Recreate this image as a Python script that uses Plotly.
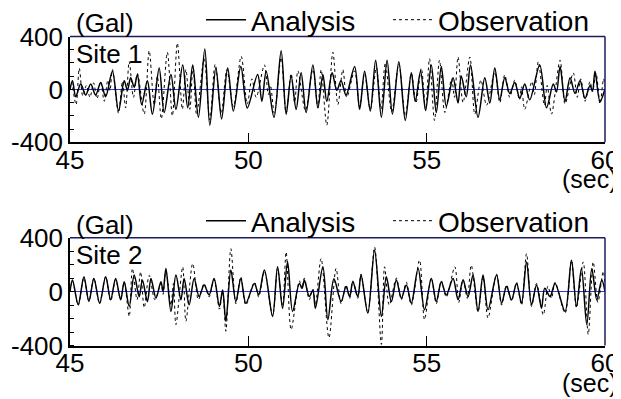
import plotly.graph_objects as go

# ---------------- data (extrema; seconds, Gal) ----------------
site1_ana_t = [45.00, 45.07, 45.16, 45.30, 45.44, 45.58, 45.72, 45.86, 46.00, 46.19, 46.36, 46.52, 46.61, 46.70,
               46.80, 46.89, 47.01, 47.17, 47.31, 47.50, 47.64, 47.83, 47.97, 48.16, 48.30, 48.44, 48.60, 48.78,
               48.92, 49.09, 49.25, 49.42, 49.58, 49.79, 49.97, 50.26, 50.38, 50.50, 50.72, 50.92, 51.06, 51.20,
               51.34, 51.48, 51.62, 51.81, 51.95, 52.09, 52.20, 52.35, 52.48, 52.60, 52.74, 52.98, 53.12, 53.26,
               53.42, 53.57, 53.73, 53.89, 54.04, 54.22, 54.40, 54.57, 54.68, 54.83, 54.97, 55.13, 55.27, 55.41,
               55.55, 55.74, 55.88, 55.97, 56.11, 56.23, 56.44, 56.63, 56.77, 56.91, 57.05, 57.19, 57.33, 57.47,
               57.61, 57.75, 57.89, 58.17, 58.36, 58.55, 58.64, 58.74, 58.88, 59.02, 59.16, 59.30, 59.44, 59.58,
               59.65, 59.72, 59.86, 60.00]
site1_ana_v = [0, 65, -55, 40, -43, 40, -43, 53, -55, 137, -163, 65, -7, 89,
               17, 113, -115, 65, -187, 161, -175, 113, -151, 185, -139, 185, -211, 305,
               -271, 161, -223, 161, -163, 173, -140, 113, -91, 137, -211, 293, -187, 101,
               -151, 125, -175, 185, -139, 113, -91, 125, -7, 65, -43, 173, -151, 137,
               -163, 221, -211, 221, -187, 209, -235, 125, -91, 137, -160, 185, -175, 173,
               -127, 89, -103, 101, -55, 185, -211, 89, -103, 161, -79, 89, -31, 53,
               -67, 41, -79, 185, -139, 40, -20, 173, -91, 89, -31, 65, -67, 29,
               -10, 137, -91, 5]

site1_obs_t = [45.00, 45.04, 45.17, 45.26, 45.36, 45.46, 45.56, 45.66, 45.76, 45.86, 45.96, 46.06, 46.12, 46.19,
               46.36, 46.47, 46.56, 46.66, 46.78, 46.89, 47.08, 47.22, 47.36, 47.45, 47.56, 47.73, 47.87, 48.01,
               48.15, 48.25, 48.36, 48.45, 48.55, 48.76, 48.92, 49.07, 49.24, 49.40, 49.58, 49.80, 49.97, 50.10,
               50.22, 50.45, 50.56, 50.62, 50.73, 50.92, 51.06, 51.20, 51.30, 51.39, 51.60, 51.81, 51.95, 52.04,
               52.20, 52.37, 52.51, 52.65, 52.76, 52.98, 53.12, 53.26, 53.42, 53.59, 53.72, 53.84, 54.02, 54.22,
               54.40, 54.57, 54.70, 54.85, 54.97, 55.08, 55.22, 55.36, 55.51, 55.70, 55.78, 55.88, 56.02, 56.21,
               56.35, 56.52, 56.68, 56.91, 57.05, 57.19, 57.33, 57.47, 57.60, 57.66, 57.75, 57.95, 58.02, 58.13,
               58.30, 58.38, 58.50, 58.74, 58.88, 59.11, 59.22, 59.32, 59.44, 59.58, 59.65, 59.75, 59.86, 59.96,
               60.00]
site1_obs_v = [0, 50, -115, 160, -50, 30, -60, 50, -70, 60, -90, 70, -10, 150,
               -180, 60, -140, 210, -60, 120, -187, 293, -120, 100, -223, 281, -200, 350,
               -150, 150, -150, 180, -190, 230, -230, 190, -180, 150, -130, 250, -110, 80,
               -60, 185, -40, 30, -180, 240, -180, 120, -100, 140, -160, 150, -140, 150,
               -271, 281, -115, 150, -60, 140, -130, 120, -150, 165, -150, 200, -170, 190,
               -200, 120, -100, 160, -150, 233, -235, 221, -175, 80, -60, 245, -100, 245,
               -187, 70, -120, 130, -100, 110, -60, 70, -80, 20, -151, 60, -40, 209,
               -120, 30, -187, 221, -110, 125, -60, 80, -90, 60, -20, 120, -110, 80,
               20]

site2_ana_t = [45.00, 45.07, 45.23, 45.39, 45.53, 45.67, 45.83, 46.00, 46.14, 46.28, 46.42, 46.52, 46.66, 46.80,
               46.94, 47.03, 47.17, 47.27, 47.41, 47.55, 47.61, 47.69, 47.83, 47.97, 48.11, 48.20, 48.34, 48.48,
               48.62, 48.76, 48.90, 49.04, 49.19, 49.28, 49.37, 49.51, 49.65, 49.79, 49.93, 50.17, 50.29, 50.45,
               50.68, 50.82, 50.96, 51.10, 51.24, 51.43, 51.51, 51.57, 51.71, 51.81, 51.88, 52.09, 52.23, 52.40,
               52.60, 52.74, 52.84, 52.93, 53.07, 53.16, 53.35, 53.54, 53.73, 53.87, 54.01, 54.15, 54.29, 54.43,
               54.57, 54.76, 54.94, 55.13, 55.27, 55.41, 55.55, 55.74, 55.88, 56.02, 56.16, 56.30, 56.44, 56.58,
               56.72, 56.96, 57.10, 57.24, 57.38, 57.52, 57.66, 57.80, 57.94, 58.08, 58.22, 58.31, 58.46, 58.60,
               58.88, 59.06, 59.20, 59.34, 59.49, 59.63, 59.77, 59.91, 60.00]
site2_ana_v = [0, 86, -98, 110, -74, 98, -86, 110, -61, 98, -61, 74, -110, 123,
               -37, 86, -74, 98, -49, 74, 0, 172, -147, 123, -61, 98, -98, 98,
               -37, 49, -25, 98, -110, 12, -220, 160, -74, 98, -86, 61, -25, 160,
               -184, 184, -123, 221, -147, 61, 25, 86, -37, 12, -123, 184, -208, 95,
               -74, 37, -37, 74, -37, 123, -159, 306, -184, 110, -74, 86, -49, 49,
               -86, 172, -135, 98, -74, 74, -25, 98, -61, 86, -37, 123, -147, 123,
               -135, 123, -86, 37, -61, 61, -86, 220, -98, 49, -123, 25, -37, 61,
               -147, 233, -110, 172, -245, 172, -61, 86, 0]

site2_obs_t = [45.00, 45.07, 45.23, 45.39, 45.53, 45.67, 45.83, 46.00, 46.14, 46.28, 46.42, 46.52, 46.66, 46.75,
               46.88, 46.98, 47.08, 47.22, 47.38, 47.55, 47.61, 47.69, 47.83, 47.90, 47.97, 48.16, 48.25, 48.44,
               48.60, 48.76, 48.90, 49.04, 49.19, 49.28, 49.37, 49.51, 49.65, 49.79, 49.93, 50.17, 50.29, 50.45,
               50.68, 50.82, 50.96, 51.06, 51.20, 51.43, 51.50, 51.57, 51.71, 51.81, 51.88, 52.04, 52.26, 52.46,
               52.60, 52.74, 52.84, 52.93, 53.07, 53.16, 53.35, 53.54, 53.73, 53.82, 53.95, 54.15, 54.29, 54.43,
               54.57, 54.80, 54.94, 55.13, 55.27, 55.41, 55.55, 55.79, 55.90, 56.02, 56.14, 56.25, 56.44, 56.58,
               56.72, 56.96, 57.10, 57.24, 57.38, 57.52, 57.66, 57.80, 57.94, 58.08, 58.27, 58.40, 58.50, 58.60,
               58.88, 59.06, 59.20, 59.39, 59.53, 59.67, 59.80, 59.95, 60.00]
site2_obs_v = [0, 80, -100, 100, -70, 100, -90, 110, -70, 90, -60, 70, -184, 172,
               -60, 147, -120, 120, -60, 60, -20, 150, -100, 60, -245, 184, -220, 208,
               -60, 60, -40, 90, -130, 10, -294, 318, -90, 110, -100, 70, -40, 150,
               -180, 170, -110, 294, -282, 80, 20, 100, -60, 20, -100, 245, -343, 172,
               -90, 50, -50, 80, -50, 130, -160, 330, -392, 184, -100, 100, -60, 70,
               -100, 233, -208, 100, -90, 80, -40, 184, -80, 90, -50, 196, -150, 110,
               -196, 130, -100, 50, -70, 70, -100, 282, -110, 60, -172, 40, -50, 70,
               -160, 230, -120, 220, -318, 220, -80, 150, 40]

x_ticks = [45, 50, 55, 60]
y_ticks = [-400, 0, 400]
y_tick_text = ["-400", "0", "400"]
site_labels = ["Site 1", "Site 2"]
series_names = ["Analysis", "Observation"]
unit_y = "(Gal)"
unit_x = "(sec)"

# ---------------- figure ----------------
# the page body adds an 8px margin, so the figure is 613x391 and offsets are page-8
W, H = 613, 391
FONT = "Liberation Sans, Arial, sans-serif"
FS = 26
LFS = 28
fig = go.Figure()

panels = [
    (site1_ana_t, site1_ana_v, site1_obs_t, site1_obs_v, "x", "y", "legend", "legend3"),
    (site2_ana_t, site2_ana_v, site2_obs_t, site2_obs_v, "x2", "y2", "legend2", "legend4"),
]
for at, av, ot, ov, xa, ya, lg_a, lg_o in panels:
    fig.add_trace(go.Scatter(x=ot, y=ov, mode="lines", name=series_names[1], xaxis=xa, yaxis=ya,
                             line=dict(color="black", width=1, dash="dot", shape="spline", smoothing=0.9),
                             legend=lg_o))
    fig.add_trace(go.Scatter(x=at, y=av, mode="lines", name=series_names[0], xaxis=xa, yaxis=ya,
                             line=dict(color="black", width=1.5, shape="spline", smoothing=0.9),
                             legend=lg_a))

xdom = [62 / W, 597 / W]
ydoms = [[1 - 134.3 / H, 1 - 28.5 / H], [1 - 337.5 / H, 1 - 229.7 / H]]

axis_common_x = dict(range=[45, 60], tickvals=x_ticks, ticktext=[str(v) for v in x_ticks],
                     ticks="inside", ticklen=10, tickcolor="black", showline=True, linecolor="black",
                     linewidth=1.5, mirror=False, showgrid=False, zeroline=False, ticklabelstandoff=-6,
                     tickfont=dict(family=FONT, size=FS, color="black"), domain=xdom, fixedrange=True)
axis_common_y = dict(range=[-400, 400], tickvals=y_ticks, ticktext=y_tick_text, ticks="",
                     showline=True, linecolor="black", linewidth=1.5, mirror=False, showgrid=False,
                     zeroline=True, zerolinecolor="#2a3ad6", zerolinewidth=1.3,
                     minor=dict(dtick=100, ticks="inside", ticklen=4, tickcolor="black", showgrid=False),
                     tickfont=dict(family=FONT, size=FS, color="black"), fixedrange=True)

legend_common = dict(orientation="h", xanchor="left", yanchor="middle",
                     font=dict(family=FONT, size=LFS, color="black"), bgcolor="rgba(0,0,0,0)",
                     itemwidth=40, tracegroupgap=0)

fig.update_layout(
    xaxis=dict(**axis_common_x, anchor="y"),
    yaxis=dict(**axis_common_y, domain=ydoms[0], anchor="x"),
    xaxis2=dict(**axis_common_x, anchor="y2"),
    yaxis2=dict(**axis_common_y, domain=ydoms[1], anchor="x2"),
    width=W, height=H,
    margin=dict(l=0, r=0, t=0, b=0, autoexpand=False),
    paper_bgcolor="white", plot_bgcolor="white",
    font=dict(family=FONT, size=FS, color="black"),
    legend=dict(**legend_common, x=193 / W, y=1 - 12 / H),
    legend3=dict(**legend_common, x=380 / W, y=1 - 12 / H),
    legend2=dict(**legend_common, x=193 / W, y=1 - 213 / H),
    legend4=dict(**legend_common, x=380 / W, y=1 - 213 / H),
    showlegend=True,
)

# top and right frame lines (navy)
shapes = []
for xr, yr in [("x domain", "y domain"), ("x2 domain", "y2 domain")]:
    shapes.append(dict(type="line", xref=xr, yref=yr, x0=0, x1=1, y0=1, y1=1,
                       line=dict(color="#1b1b5e", width=1.5)))
    shapes.append(dict(type="line", xref=xr, yref=yr, x0=1, x1=1, y0=0, y1=1,
                       line=dict(color="#1b1b5e", width=1.5)))
fig.update_layout(shapes=shapes)

annotations = []
for i, (xr, yr) in enumerate([("x domain", "y domain"), ("x2 domain", "y2 domain")]):
    annotations.append(dict(text=site_labels[i], xref=xr, yref=yr, x=0.008, y=1.0, xanchor="left",
                            yanchor="top", showarrow=False, font=dict(family=FONT, size=FS, color="black")))
    annotations.append(dict(text=unit_y, xref=xr, yref=yr, x=0.008, y=1.0, xanchor="left",
                            yanchor="bottom", yshift=-4, showarrow=False,
                            font=dict(family=FONT, size=FS, color="black")))
    annotations.append(dict(text=unit_x, xref=xr, yref=yr, x=1.0, y=0, xanchor="right",
                            yanchor="top", yshift=-21, xshift=15, showarrow=False,
                            font=dict(family=FONT, size=25, color="black")))
fig.update_layout(annotations=annotations)

fig.write_html("out.html")
